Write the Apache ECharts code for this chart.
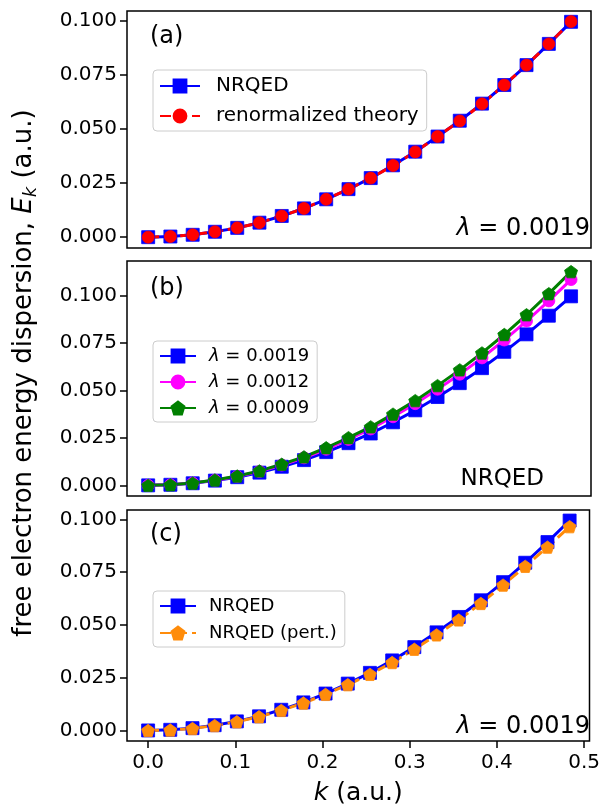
<!DOCTYPE html>
<html>
<head>
<meta charset="utf-8">
<script src="https://cdn.jsdelivr.net/npm/echarts@6/dist/echarts.min.js"></script>
<style>
  html, body { margin: 0; padding: 0; background: #fff; }
  #chart { width: 603px; height: 807px; }
</style>
</head>
<body>
<div id="chart"></div>
<script>
// momentum grid k (a.u.)
const kValues = [0, 0.0254, 0.0509, 0.0763, 0.1018, 0.1272, 0.1527, 0.1781, 0.2035, 0.2290,
  0.2544, 0.2799, 0.3053, 0.3308, 0.3562, 0.3816, 0.4071, 0.4325, 0.4580, 0.4834]

// E_k, lambda = 0.0019 (NRQED)
const nrqed = [0, 0.0003, 0.0011, 0.0025, 0.0043, 0.0067, 0.0098, 0.0133, 0.0175, 0.0222,
  0.0273, 0.0332, 0.0395, 0.0465, 0.0538, 0.0617, 0.0703, 0.0795, 0.0893, 0.0995]
const renormalized = [0, 0.0003, 0.0011, 0.0025, 0.0043, 0.0067, 0.0098, 0.0133, 0.0175, 0.0222,
  0.0273, 0.0331, 0.0394, 0.0465, 0.0537, 0.0616, 0.0703, 0.0795, 0.0893, 0.0996]
const lambda0012 = [0, 0.0003, 0.0012, 0.0027, 0.0047, 0.0073, 0.0107, 0.0145, 0.0190, 0.0242,
  0.0297, 0.0361, 0.0430, 0.0506, 0.0585, 0.0671, 0.0765, 0.0865, 0.0971, 0.1083]
const lambda0009 = [0, 0.0003, 0.0012, 0.0028, 0.0049, 0.0076, 0.0111, 0.0150, 0.0198, 0.0251,
  0.0308, 0.0375, 0.0446, 0.0525, 0.0608, 0.0697, 0.0794, 0.0898, 0.1009, 0.1125]
const nrqedPert = [0, 0.0002, 0.0009, 0.0023, 0.0041, 0.0065, 0.0095, 0.0130, 0.0171, 0.0217,
  0.0266, 0.0322, 0.0385, 0.0453, 0.0524, 0.0602, 0.0689, 0.0778, 0.0869, 0.0966]

const yTicks = [0, 0.025, 0.05, 0.075, 0.1]
const xTicks = [0, 0.1, 0.2, 0.3, 0.4, 0.5]

const FONT = 'DejaVu Sans'
const PENTAGON = 'path://M0,-1L0.951,-0.309L0.588,0.809L-0.588,0.809L-0.951,-0.309Z'

function pairs(arr) {
  return kValues.map((k, i) => [k, arr[i]])
}

function line(name, arr, idx, color, symbol, size, dashed) {
  return {
    name: name,
    type: 'line',
    xAxisIndex: idx,
    yAxisIndex: idx,
    data: pairs(arr),
    symbol: symbol,
    symbolSize: size,
    showSymbol: true,
    lineStyle: { color: color, width: 3, type: dashed ? [11, 5] : 'solid' },
    itemStyle: { color: color, borderColor: color, borderWidth: 0.8 },
    emphasis: { disabled: true }
  }
}

function legendBox(names, top, fontSize, itemWidth, itemGap, textPad) {
  return {
    data: names,
    orient: 'vertical',
    left: 153,
    top: top,
    selectedMode: false,
    itemWidth: itemWidth,
    itemHeight: 16,
    itemGap: itemGap,
    padding: [6, 8, 5, 6],
    backgroundColor: 'rgba(255,255,255,0.8)',
    borderColor: '#cccccc',
    borderWidth: 1,
    borderRadius: 4,
    formatter: name => name.replace('λ', '{i|λ}'),
    textStyle: {
      fontFamily: FONT,
      fontSize: fontSize,
      color: '#000',
      padding: [0, 0, 0, textPad],
      rich: { i: { fontFamily: FONT, fontSize: fontSize, fontStyle: 'italic', color: '#000' } }
    }
  }
}

const grids = [
  { left: 127, top: 11, width: 464, height: 237 },
  { left: 127, top: 261, width: 464, height: 235 },
  { left: 127, top: 510, width: 464, height: 235 }
].map(g => Object.assign(g, { show: true, borderColor: '#000', borderWidth: 1.5, backgroundColor: 'transparent' }))

const yRanges = [[-0.005, 0.1045], [-0.0056, 0.1181], [-0.005, 0.1045]]

const xAxes = [0, 1, 2].map(i => ({
  type: 'value',
  gridIndex: i,
  min: -0.0242,
  max: 0.5062,
  splitLine: { show: false },
  axisLine: { show: false, onZero: false },
  axisTick: { show: i === 2, customValues: xTicks, length: 7, lineStyle: { color: '#000', width: 1.5 } },
  axisLabel: {
    show: i === 2,
    customValues: xTicks,
    formatter: v => v.toFixed(1),
    fontFamily: FONT,
    fontSize: 20,
    color: '#000',
    margin: 12
  },
  name: i === 2 ? '{i|k} (a.u.)' : '',
  nameLocation: 'middle',
  nameGap: 40,
  nameTextStyle: {
    fontFamily: FONT,
    fontSize: 25,
    color: '#000',
    rich: { i: { fontFamily: FONT, fontSize: 25, fontStyle: 'italic', color: '#000' } }
  }
}))

const yAxes = [0, 1, 2].map(i => ({
  type: 'value',
  gridIndex: i,
  min: yRanges[i][0],
  max: yRanges[i][1],
  splitLine: { show: false },
  axisLine: { show: false, onZero: false },
  axisTick: { show: true, customValues: yTicks, length: 7, lineStyle: { color: '#000', width: 1.5 } },
  axisLabel: {
    customValues: yTicks,
    formatter: v => v.toFixed(3),
    fontFamily: FONT,
    fontSize: 20,
    color: '#000',
    margin: 10
  }
}))

function label(text, x, y, size, align) {
  return {
    type: 'text',
    x: x,
    y: y,
    z: 100,
    style: {
      text: text,
      fontFamily: FONT,
      fontSize: size,
      fill: '#000',
      align: align,
      verticalAlign: 'middle',
      rich: { i: { fontFamily: FONT, fontSize: size, fontStyle: 'italic', fill: '#000' } }
    }
  }
}

const chart = echarts.init(document.getElementById('chart'), null, { renderer: 'canvas' })

chart.setOption({
  animation: false,
  backgroundColor: '#fff',
  grid: grids,
  xAxis: xAxes,
  yAxis: yAxes,
  legend: [
    legendBox(['NRQED', 'renormalized theory'], 70, 20, 40, 10, 11),
    legendBox(['λ = 0.0019', 'λ = 0.0012', 'λ = 0.0009'], 341, 18, 36, 8, 8),
    legendBox(['NRQED', 'NRQED (pert.)'], 591, 18, 36, 9, 8)
  ],
  graphic: [
    label('(a)', 150, 37, 24, 'left'),
    label('(b)', 150, 289, 24, 'left'),
    label('(c)', 150, 535, 24, 'left'),
    label('{i|λ} = 0.0019', 590, 229, 24, 'right'),
    label('NRQED', 544, 479, 23, 'right'),
    label('{i|λ} = 0.0019', 590, 727, 24, 'right'),
    {
      type: 'text',
      x: 24,
      y: 373,
      rotation: Math.PI / 2,
      style: {
        text: '{n|free electron energy dispersion, }{e|E}{s|k}{n| (a.u.)}',
        align: 'center',
        verticalAlign: 'middle',
        fill: '#000',
        rich: {
          n: { fontFamily: FONT, fontSize: 26, lineHeight: 32, fill: '#000' },
          e: { fontFamily: FONT, fontSize: 26, lineHeight: 32, fontStyle: 'italic', fill: '#000' },
          s: { fontFamily: FONT, fontSize: 18, lineHeight: 18, fontStyle: 'italic', verticalAlign: 'bottom', fill: '#000' }
        }
      }
    }
  ],
  series: [
    line('NRQED', nrqed, 0, '#0000ff', 'rect', 13, false),
    line('renormalized theory', renormalized, 0, '#ff0000', 'circle', 12, true),
    line('λ = 0.0019', nrqed, 1, '#0000ff', 'rect', 13, false),
    line('λ = 0.0012', lambda0012, 1, '#ff00ff', 'circle', 12, false),
    line('λ = 0.0009', lambda0009, 1, '#008000', PENTAGON, [13, 12.4], false),
    line('NRQED', nrqed, 2, '#0000ff', 'rect', 13, false),
    line('NRQED (pert.)', nrqedPert, 2, '#ff8c0a', PENTAGON, [13, 12.4], true)
  ]
})
</script>
</body>
</html>
